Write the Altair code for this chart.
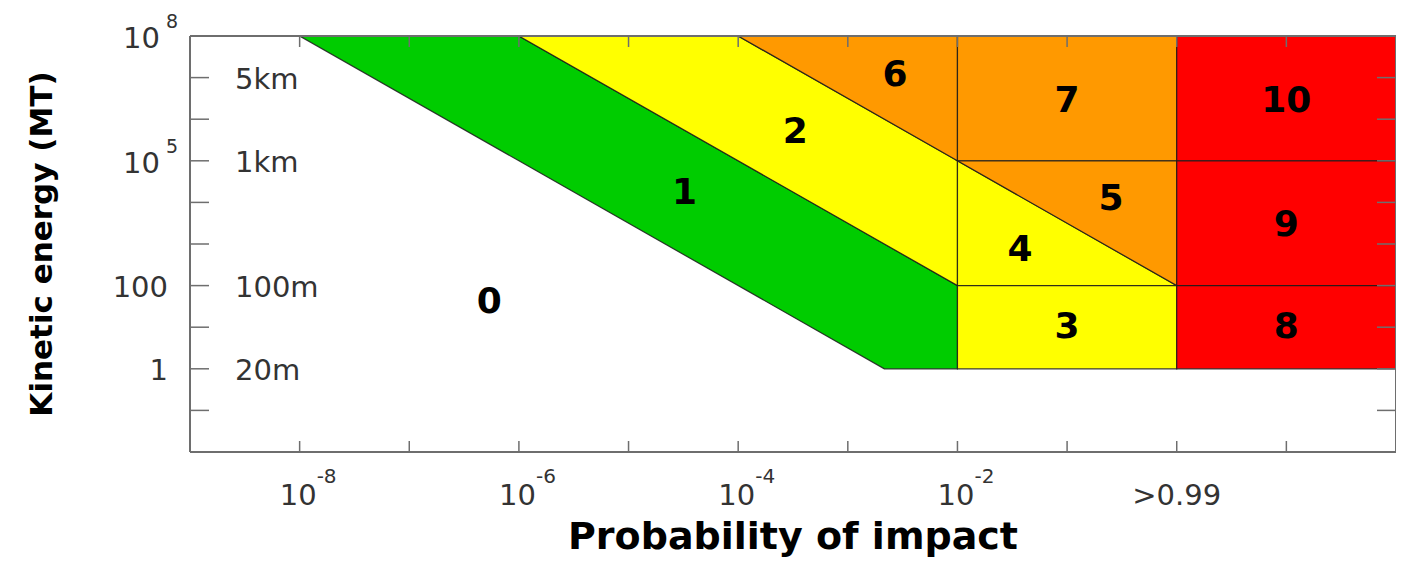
import altair as alt
import pandas as pd

# ---- data (x = log10 probability of impact, y = log10 kinetic energy in MT) ----
REGION = ["1", "1", "1", "1", "2", "2", "2", "6", "6", "7", "7", "4", "4",
          "5", "5", "3", "3", "10", "10", "9", "9", "8", "8"]
VX = [-8, -6, -2.667, -2, -6, -4, -2, -4, -2, -2, 0, -2, 0,
      -2, 0, -2, 0, 0, 2, 0, 2, 0, 2]
VTOP = [8, 8, 3, 2, 8, 8, 5, 8, 8, 8, 8, 5, 2,
        5, 5, 2, 2, 8, 8, 5, 5, 2, 2]
VBOT = [8, 5, 0, 0, 8, 5, 2, 8, 5, 5, 5, 2, 2,
        5, 2, 0, 0, 5, 5, 2, 2, 0, 0]

REGION_IDS = ["1", "2", "3", "4", "5", "6", "7", "8", "9", "10"]
REGION_COLORS = ["#00cc00", "#ffff00", "#ffff00", "#ffff00", "#ff9900",
                 "#ff9900", "#ff9900", "#ff0000", "#ff0000", "#ff0000"]

NUM_LABELS = ["0", "1", "2", "6", "7", "10", "5", "9", "4", "3", "8"]
NUM_X = [-6.27, -4.49, -3.48, -2.57, -1.0, 1.0, -0.6, 1.0, -1.43, -1.0, 1.0]
NUM_Y = [1.6, 4.23, 5.7, 7.06, 6.44, 6.44, 4.08, 3.46, 2.86, 1.0, 1.0]

X_TICKS = [-8, -7, -6, -5, -4, -3, -2, -1, 0, 1]
Y_TICKS = [-1, 0, 1, 2, 3, 4, 5, 6, 7]

X_POW_TICKS = [-8, -6, -4, -2]
X_POW_EXP = ["-8", "-6", "-4", "-2"]
X_PLAIN_TICKS = [0]
X_PLAIN_LABELS = [">0.99"]

Y_POW_TICKS = [8, 5]
Y_POW_EXP = ["8", "5"]
Y_PLAIN_TICKS = [2, 0]
Y_PLAIN_LABELS = ["100", "1"]
SIZE_TICKS = [7, 5, 2, 0]
SIZE_LABELS = ["5km", "1km", "100m", "20m"]

X_TITLE = "Probability of impact"
Y_TITLE = "Kinetic energy (MT)"

W, H = 1206, 416
FONT = "DejaVu Sans"
FRAME_COLOR = "#6e6e6e"
LABEL_COLOR = "#333333"

xs = alt.Scale(domain=[-9, 2], nice=False, zero=False)
ys = alt.Scale(domain=[-2, 8], nice=False, zero=False)

regions = pd.DataFrame({"region": REGION, "x": VX, "top": VTOP, "bottom": VBOT})
areas = alt.Chart(regions).mark_area(
    stroke="#1a1a1a", strokeWidth=1.2, strokeOpacity=0.85, opacity=1, interpolate="linear"
).encode(
    x=alt.X("x:Q", scale=xs, axis=None),
    y=alt.Y("top:Q", scale=ys, axis=None, stack=None),
    y2="bottom:Q",
    fill=alt.Fill("region:N", scale=alt.Scale(domain=REGION_IDS, range=REGION_COLORS), legend=None),
    detail="region:N",
)

nums = pd.DataFrame({"label": NUM_LABELS, "x": NUM_X, "y": NUM_Y})
num_text = alt.Chart(nums).mark_text(
    font=FONT, fontWeight="bold", fontSize=36, color="#000000", baseline="middle", align="center"
).encode(
    x=alt.X("x:Q", scale=xs, axis=None),
    y=alt.Y("y:Q", scale=ys, axis=None),
    text="label:N",
)

# ---- frame ----
frame_kw = dict(color=FRAME_COLOR, strokeWidth=2)
frame_left = alt.Chart(pd.DataFrame({"k": [0]})).mark_rule(**frame_kw).encode(
    x=alt.value(0), y=alt.value(0), y2=alt.value(H))
frame_right = alt.Chart(pd.DataFrame({"k": [0]})).mark_rule(**frame_kw).encode(
    x=alt.value(W), y=alt.value(0), y2=alt.value(H))
frame_top = alt.Chart(pd.DataFrame({"k": [0]})).mark_rule(**frame_kw).encode(
    y=alt.value(0), x=alt.value(0), x2=alt.value(W))
frame_bottom = alt.Chart(pd.DataFrame({"k": [0]})).mark_rule(**frame_kw).encode(
    y=alt.value(H), x=alt.value(0), x2=alt.value(W))

# ---- inward ticks on all four sides ----
ydf = pd.DataFrame({"y": Y_TICKS})
xdf = pd.DataFrame({"x": X_TICKS})
rule_kw = dict(color=FRAME_COLOR, strokeWidth=1.5)
left_ticks = alt.Chart(ydf).mark_rule(**rule_kw).encode(
    y=alt.Y("y:Q", scale=ys, axis=None), x=alt.value(0), x2=alt.value(19))
right_ticks = alt.Chart(ydf).mark_rule(**rule_kw).encode(
    y=alt.Y("y:Q", scale=ys, axis=None), x=alt.value(W - 19), x2=alt.value(W))
bottom_ticks = alt.Chart(xdf).mark_rule(**rule_kw).encode(
    x=alt.X("x:Q", scale=xs, axis=None), y=alt.value(H - 11), y2=alt.value(H))
top_ticks = alt.Chart(xdf).mark_rule(**rule_kw).encode(
    x=alt.X("x:Q", scale=xs, axis=None), y=alt.value(0), y2=alt.value(11))

# ---- y tick labels ----
ypow = pd.DataFrame({"y": Y_POW_TICKS, "base": ["10"] * len(Y_POW_TICKS), "exp": Y_POW_EXP})
y_pow_base = alt.Chart(ypow).mark_text(
    font=FONT, fontSize=29, color=LABEL_COLOR, align="right", baseline="middle", dy=3
).encode(y=alt.Y("y:Q", scale=ys, axis=None), x=alt.value(-30), text="base:N")
y_pow_exp = alt.Chart(ypow).mark_text(
    font=FONT, fontSize=19, color=LABEL_COLOR, align="left", baseline="middle", dy=-14
).encode(y=alt.Y("y:Q", scale=ys, axis=None), x=alt.value(-24), text="exp:N")

yplain = pd.DataFrame({"y": Y_PLAIN_TICKS, "label": Y_PLAIN_LABELS})
y_plain = alt.Chart(yplain).mark_text(
    font=FONT, fontSize=29, color=LABEL_COLOR, align="right", baseline="middle", dy=2
).encode(y=alt.Y("y:Q", scale=ys, axis=None), x=alt.value(-22), text="label:N")

sizes = pd.DataFrame({"y": SIZE_TICKS, "label": SIZE_LABELS})
size_text = alt.Chart(sizes).mark_text(
    font=FONT, fontSize=29, color=LABEL_COLOR, align="left", baseline="middle", dy=2
).encode(y=alt.Y("y:Q", scale=ys, axis=None), x=alt.value(45), text="label:N")

# ---- x tick labels ----
xpow = pd.DataFrame({"x": X_POW_TICKS, "base": ["10"] * len(X_POW_TICKS), "exp": X_POW_EXP})
x_pow_base = alt.Chart(xpow).mark_text(
    font=FONT, fontSize=29, color=LABEL_COLOR, align="right", baseline="alphabetic", dx=17
).encode(x=alt.X("x:Q", scale=xs, axis=None), y=alt.value(H + 53), text="base:N")
x_pow_exp = alt.Chart(xpow).mark_text(
    font=FONT, fontSize=20, color=LABEL_COLOR, align="left", baseline="alphabetic", dx=17
).encode(x=alt.X("x:Q", scale=xs, axis=None), y=alt.value(H + 31), text="exp:N")

xplain = pd.DataFrame({"x": X_PLAIN_TICKS, "label": X_PLAIN_LABELS})
x_plain = alt.Chart(xplain).mark_text(
    font=FONT, fontSize=29, color=LABEL_COLOR, align="center", baseline="alphabetic"
).encode(x=alt.X("x:Q", scale=xs, axis=None), y=alt.value(H + 53), text="label:N")

# ---- axis titles ----
xt = pd.DataFrame({"t": [X_TITLE]})
x_title = alt.Chart(xt).mark_text(
    font=FONT, fontWeight="bold", fontSize=38, color="#000000", align="center", baseline="alphabetic"
).encode(x=alt.value(W / 2), y=alt.value(H + 97), text="t:N")

yt = pd.DataFrame({"t": [Y_TITLE]})
y_title = alt.Chart(yt).mark_text(
    font=FONT, fontWeight="bold", fontSize=31, color="#000000", align="center",
    baseline="alphabetic", angle=270
).encode(x=alt.value(-138), y=alt.value(H / 2), text="t:N")

chart = alt.layer(
    areas, num_text, frame_left, frame_right, frame_top, frame_bottom,
    left_ticks, right_ticks, bottom_ticks, top_ticks,
    y_pow_base, y_pow_exp, y_plain, size_text,
    x_pow_base, x_pow_exp, x_plain, x_title, y_title,
).properties(
    width=W, height=H,
    autosize=alt.AutoSizeParams(type="none"),
    padding={"left": 182, "top": 28, "right": 0, "bottom": 107},
).configure_view(
    strokeWidth=0
).configure(background="white")

chart.save("out.html", embed_options={"renderer": "svg", "actions": False})
